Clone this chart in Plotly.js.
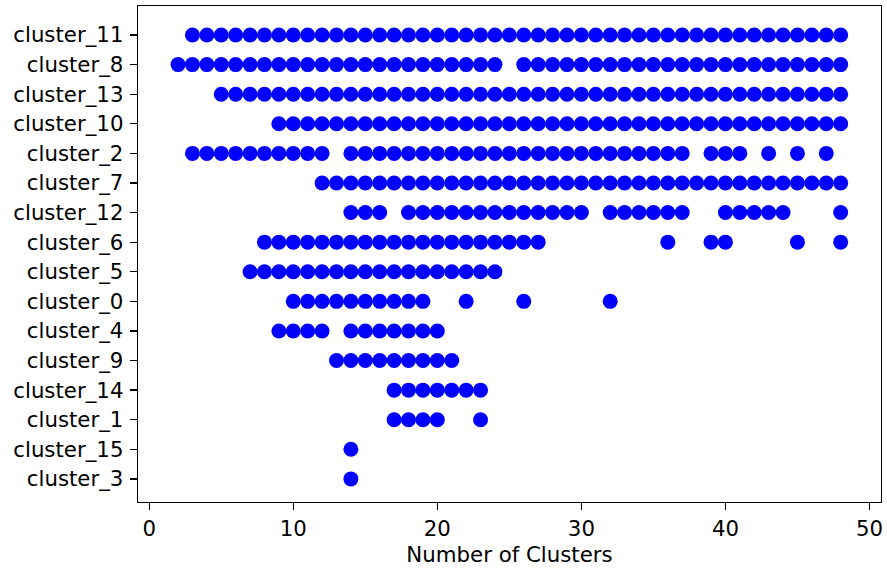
<!DOCTYPE html>
<html>
<head>
<meta charset="utf-8">
<script src="https://cdn.plot.ly/plotly-3.0.1.min.js"></script>
<style>
  html, body { margin: 0; padding: 0; background: #fff; }
  #chart { width: 887px; height: 573px; }
</style>
</head>
<body>
<div id="chart"></div>
<script>
// Cluster rows, top to bottom, and the cluster counts at which each appears
const clusterNames = [
  "cluster_11", "cluster_8", "cluster_13", "cluster_10", "cluster_2", "cluster_7",
  "cluster_12", "cluster_6", "cluster_5", "cluster_0", "cluster_4", "cluster_9",
  "cluster_14", "cluster_1", "cluster_15", "cluster_3"
];

const cluster_11 = [3,4,5,6,7,8,9,10,11,12,13,14,15,16,17,18,19,20,21,22,23,24,25,26,27,28,29,30,31,32,33,34,35,36,37,38,39,40,41,42,43,44,45,46,47,48];
const cluster_8  = [2,3,4,5,6,7,8,9,10,11,12,13,14,15,16,17,18,19,20,21,22,23,24,26,27,28,29,30,31,32,33,34,35,36,37,38,39,40,41,42,43,44,45,46,47,48];
const cluster_13 = [5,6,7,8,9,10,11,12,13,14,15,16,17,18,19,20,21,22,23,24,25,26,27,28,29,30,31,32,33,34,35,36,37,38,39,40,41,42,43,44,45,46,47,48];
const cluster_10 = [9,10,11,12,13,14,15,16,17,18,19,20,21,22,23,24,25,26,27,28,29,30,31,32,33,34,35,36,37,38,39,40,41,42,43,44,45,46,47,48];
const cluster_2  = [3,4,5,6,7,8,9,10,11,12,14,15,16,17,18,19,20,21,22,23,24,25,26,27,28,29,30,31,32,33,34,35,36,37,39,40,41,43,45,47];
const cluster_7  = [12,13,14,15,16,17,18,19,20,21,22,23,24,25,26,27,28,29,30,31,32,33,34,35,36,37,38,39,40,41,42,43,44,45,46,47,48];
const cluster_12 = [14,15,16,18,19,20,21,22,23,24,25,26,27,28,29,30,32,33,34,35,36,37,40,41,42,43,44,48];
const cluster_6  = [8,9,10,11,12,13,14,15,16,17,18,19,20,21,22,23,24,25,26,27,36,39,40,45,48];
const cluster_5  = [7,8,9,10,11,12,13,14,15,16,17,18,19,20,21,22,23,24];
const cluster_0  = [10,11,12,13,14,15,16,17,18,19,22,26,32];
const cluster_4  = [9,10,11,12,14,15,16,17,18,19,20];
const cluster_9  = [13,14,15,16,17,18,19,20,21];
const cluster_14 = [17,18,19,20,21,22,23];
const cluster_1  = [17,18,19,20,23];
const cluster_15 = [14];
const cluster_3  = [14];

const clusterValues = [
  cluster_11, cluster_8, cluster_13, cluster_10, cluster_2, cluster_7,
  cluster_12, cluster_6, cluster_5, cluster_0, cluster_4, cluster_9,
  cluster_14, cluster_1, cluster_15, cluster_3
];

const xTickVals = [0, 10, 20, 30, 40, 50];

// Flatten into one scatter trace: each point is (count, cluster name)
const xs = [], ys = [];
clusterNames.forEach((name, i) => {
  clusterValues[i].forEach(v => { xs.push(v); ys.push(name); });
});

const font = { family: "DejaVu Sans, sans-serif", size: 21.3, color: "#000" };

const trace = {
  type: "scatter",
  mode: "markers",
  x: xs,
  y: ys,
  marker: { color: "#0000ff", size: 15, line: { width: 0 } },
  hoverinfo: "x+y"
};

const layout = {
  width: 887,
  height: 573,
  margin: { l: 138, r: 6, t: 6, b: 71 },
  paper_bgcolor: "#ffffff",
  plot_bgcolor: "#ffffff",
  showlegend: false,
  font: font,
  xaxis: {
    range: [-0.78, 50.8],
    tickvals: xTickVals,
    ticktext: xTickVals.map(String),
    ticks: "outside",
    ticklen: 7,
    tickwidth: 1.3,
    tickcolor: "#000",
    showline: true,
    linecolor: "#000",
    linewidth: 1.3,
    mirror: true,
    showgrid: false,
    zeroline: false,
    tickfont: font,
    title: { text: "Number of Clusters", font: font, standoff: 7 }
  },
  yaxis: {
    type: "category",
    categoryorder: "array",
    categoryarray: clusterNames.slice().reverse(),
    range: [-0.78, 15.98],
    ticks: "outside",
    ticklen: 7,
    tickwidth: 1.3,
    tickcolor: "#000",
    showline: true,
    linecolor: "#000",
    linewidth: 1.3,
    mirror: true,
    showgrid: false,
    zeroline: false,
    ticklabelstandoff: 2,
    tickfont: font
  }
};

Plotly.newPlot("chart", [trace], layout, { displayModeBar: false, staticPlot: true });
</script>
</body>
</html>
